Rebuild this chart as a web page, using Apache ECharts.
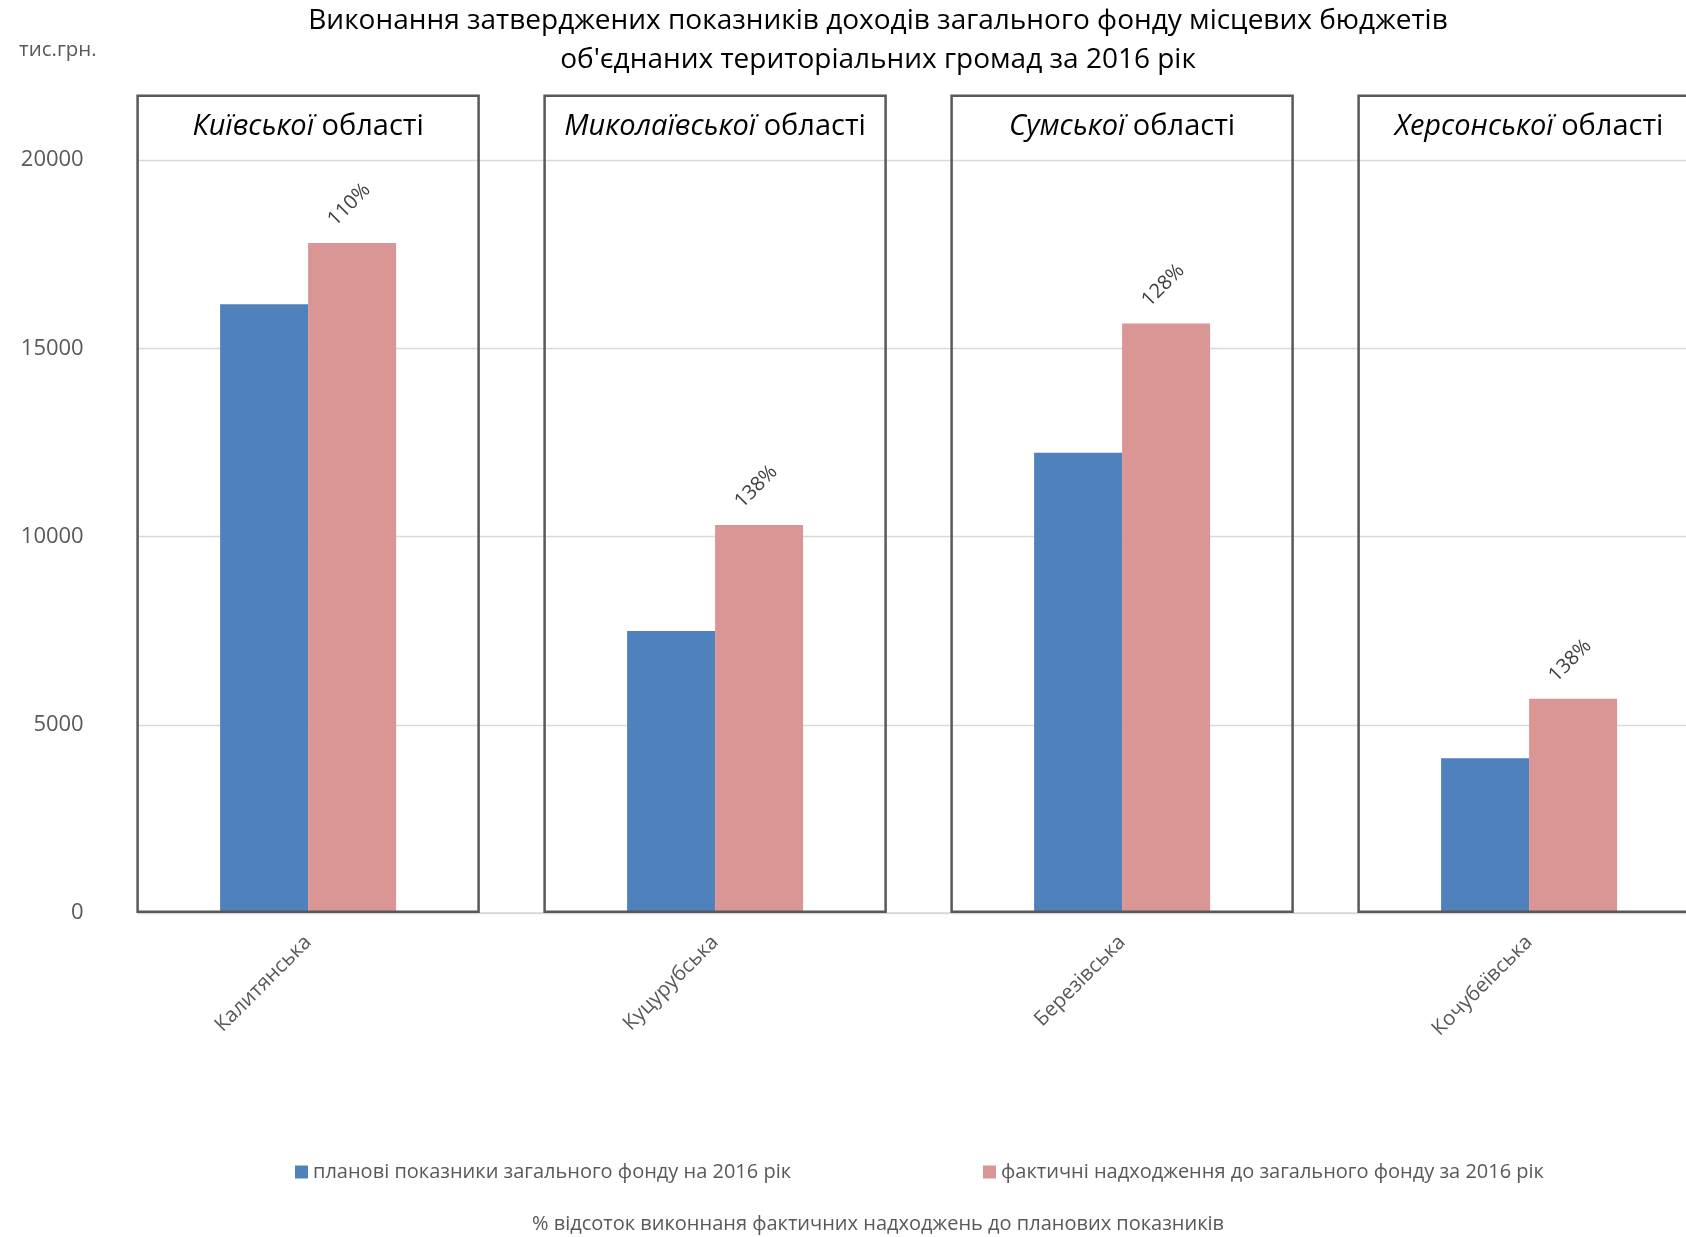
<!DOCTYPE html>
<html><head><meta charset="utf-8">
<script src="https://cdn.jsdelivr.net/npm/echarts@6/dist/echarts.min.js"></script>
<style>html,body{margin:0;padding:0;background:#fff}#c{width:1686px;height:1237px}</style>
</head><body><div id="c"></div>
<script>
// ---- data ----
const categories = ['Калитянська', 'Куцурубська', 'Березівська', 'Кочубеївська'];
const regions = ['Київської', 'Миколаївської', 'Сумської', 'Херсонської'];
const planned = [16170, 7490, 12230, 4110];
const actual = [17800, 10310, 15660, 5690];
const percentLabels = ['110%', '138%', '128%', '138%'];
const seriesNames = ['планові показники загального фонду на 2016 рік', 'фактичні надходження до загального фонду за 2016 рік'];
const titleText = 'Виконання затверджених показників доходів загального фонду місцевих бюджетів\nоб\'єднаних територіальних громад за 2016 рік';
const unitText = 'тис.грн.';
const noteText = '% відсоток виконнаня фактичних надходжень до планових показників';
const yMin = 0, yMax = 20000, yInterval = 5000;

// ---- styles ----
const FONT = '"Open Sans", "Noto Sans", sans-serif';
const GRAY = '#595959';
const BOX_RATIO = 341 / 407;

const chart = echarts.init(document.getElementById('c'), null, {renderer: 'canvas'});

const option = {
  backgroundColor: '#fff',
  animation: false,
  title: [
    {text: titleText, left: 873, top: -3, textAlign: 'center',
      textStyle: {fontFamily: FONT, fontSize: 28, fontWeight: 'normal', color: '#000', lineHeight: 38.5}},
    {text: unitText, left: 14, top: 35,
      textStyle: {fontFamily: FONT, fontSize: 20.5, fontWeight: 'normal', color: GRAY}},
    {text: noteText, left: 873, top: 1209, textAlign: 'center',
      textStyle: {fontFamily: FONT, fontSize: 20, fontWeight: 'normal', color: GRAY}}
  ],
  legend: [
    {left: 290, top: 1157, data: [seriesNames[0]], icon: 'rect', itemWidth: 13, itemHeight: 13,
      textStyle: {fontFamily: FONT, fontSize: 20, color: GRAY}},
    {left: 978, top: 1157, data: [seriesNames[1]], icon: 'rect', itemWidth: 13, itemHeight: 13,
      textStyle: {fontFamily: FONT, fontSize: 20, color: GRAY}}
  ],
  grid: [
    {left: 137.7, right: 0, top: 160.2, bottom: 324, outerBoundsMode: 'none'},
    {left: 104.6, width: 1628, top: 160.2, bottom: 324, outerBoundsMode: 'none'}
  ],
  xAxis: [
    {gridIndex: 0, type: 'value', min: 0, max: 1, axisLabel: {show: false}, axisTick: {show: false},
      splitLine: {show: false}, axisLine: {show: true, lineStyle: {color: '#d9d9d9', width: 1.5}}},
    {gridIndex: 1, type: 'category', data: categories, axisLine: {show: false}, axisTick: {show: false},
      axisLabel: {rotate: 45, margin: 26, color: GRAY, fontFamily: FONT, fontSize: 20.5}}
  ],
  yAxis: [
    {gridIndex: 0, type: 'value', min: yMin, max: yMax, interval: yInterval,
      axisLine: {show: false}, axisTick: {show: false},
      axisLabel: {color: GRAY, fontFamily: FONT, fontSize: 22, margin: 54, formatter: v => String(v)},
      splitLine: {lineStyle: {color: '#d9d9d9', width: 1.3}}},
    {gridIndex: 1, type: 'value', min: yMin, max: yMax, interval: yInterval, show: false, splitLine: {show: false}}
  ],
  series: [
    {name: seriesNames[0], type: 'bar', xAxisIndex: 1, yAxisIndex: 1, data: planned,
      barWidth: 88, barGap: '0%', itemStyle: {color: '#4F81BD'}},
    {name: seriesNames[1], type: 'bar', xAxisIndex: 1, yAxisIndex: 1, data: actual,
      barWidth: 88, barGap: '0%', itemStyle: {color: '#DA9694'},
      label: {show: true, position: 'top', distance: 41, rotate: 45, align: 'center', verticalAlign: 'middle',
        offset: [-4, 0], formatter: p => percentLabels[p.dataIndex],
        fontFamily: FONT, fontSize: 20, color: '#404040'}},
    {type: 'custom', xAxisIndex: 1, yAxisIndex: 1, z: 5, clip: false, silent: true,
      data: categories.map((c, i) => [i]),
      renderItem: function (params, api) {
        const i = api.value(0);
        const base = api.coord([i, 0]);
        const band = api.size([1, 0])[0];
        const w = band * BOX_RATIO;
        const top = params.coordSys.y - 64.5;
        const bottom = base[1] - 1.2;
        return {type: 'group', children: [
          {type: 'rect', shape: {x: base[0] - w / 2, y: top, width: w, height: bottom - top},
            style: {fill: 'none', stroke: '#595959', lineWidth: 2.5}},
          {type: 'text', x: base[0], y: top + 31,
            style: {text: '{i|' + regions[i] + '}{n| області}', align: 'center', verticalAlign: 'middle',
              fontFamily: FONT, fontSize: 29, fill: '#000',
              rich: {i: {fontStyle: 'italic', fontFamily: FONT, fontSize: 29, fill: '#000'},
                     n: {fontFamily: FONT, fontSize: 29, fill: '#000'}}}}
        ]};
      }}
  ]
};
chart.setOption(option);
</script></body></html>
